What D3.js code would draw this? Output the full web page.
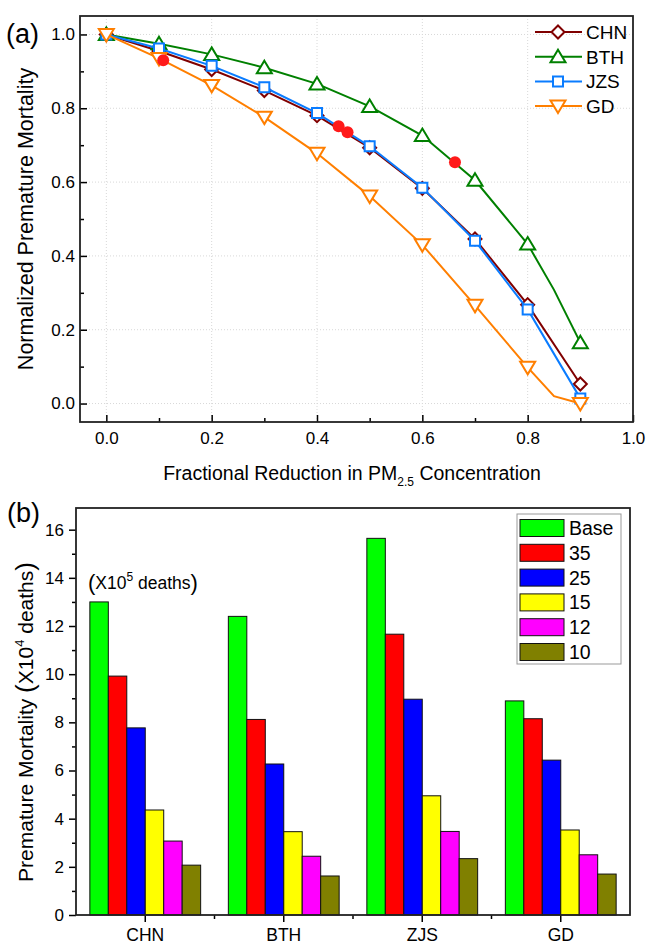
<!DOCTYPE html>
<html>
<head>
<meta charset="utf-8">
<script src="https://cdn.jsdelivr.net/npm/d3@7"></script>
<style>
body { margin:0; background:#fff; }
text { font-family: "Liberation Sans", Arial, sans-serif; fill:#000; }
.grid line { stroke:#d8d8d8; stroke-dasharray:1,2; }
</style>
</head>
<body>
<svg id="fig" width="649" height="944"></svg>
<script>
// ---- panel (a) data ----
var fracX = [0, 0.1, 0.2, 0.3, 0.4, 0.5, 0.6, 0.7, 0.8, 0.9]
var chnN = [1.0, 0.955, 0.905, 0.848, 0.780, 0.693, 0.583, 0.446, 0.268, 0.053]
var bthN = [1.0, 0.975, 0.946, 0.910, 0.866, 0.805, 0.726, 0.605, 0.432, 0.165]
var jzsN = [1.0, 0.962, 0.915, 0.857, 0.787, 0.697, 0.585, 0.441, 0.255, 0.014]
var gdN  = [1.0, 0.935, 0.862, 0.776, 0.678, 0.562, 0.430, 0.266, 0.098, 0.0]
// extra line knots (no marker) read at x=0.85
var bthKnot = [0.85, 0.308]
var gdKnot  = [0.85, 0.020]
// red dots
var dotX = [0.108, 0.441, 0.458, 0.662]
var dotY = [0.930, 0.751, 0.735, 0.654]

// ---- panel (b) data ----
var regions = ["CHN", "BTH", "ZJS", "GD"]
var scenarios = ["Base", "35", "25", "15", "12", "10"]
var mortBase = [13.00, 12.40, 15.64, 8.89]
var mort35   = [9.92, 8.12, 11.66, 8.15]
var mort25   = [7.77, 6.27, 8.96, 6.43]
var mort15   = [4.36, 3.46, 4.95, 3.53]
var mort12   = [3.07, 2.44, 3.47, 2.50]
var mort10   = [2.07, 1.62, 2.34, 1.70]

var svg = d3.select("#fig")

//======================PANEL A========================
var x = d3.scaleLinear().domain([-0.05, 1.0]).range([80, 633])
var y = d3.scaleLinear().domain([-0.05, 1.05]).range([422, 16])

var ga = svg.append("g")

// grid
var gridA = ga.append("g").attr("class","grid")
gridA.selectAll("line.v").data([0,0.2,0.4,0.6,0.8]).enter().append("line")
  .attr("x1",d=>x(d)).attr("x2",d=>x(d)).attr("y1",y(-0.05)).attr("y2",y(1.05))
gridA.selectAll("line.h").data([0,0.2,0.4,0.6,0.8,1.0]).enter().append("line")
  .attr("x1",x(-0.05)).attr("x2",x(1.0)).attr("y1",d=>y(d)).attr("y2",d=>y(d))

// axes (ticks inward)
ga.append("g").attr("transform","translate(0,422)")
  .call(d3.axisBottom(x).tickValues([0,0.2,0.4,0.6,0.8,1.0]).tickFormat(d3.format(".1f")).tickSize(-7).tickPadding(10))
  .call(g=>g.select(".domain").remove())
  .call(g=>g.selectAll("line").attr("stroke","#000").attr("stroke-width",1.5))
  .call(g=>g.selectAll("text").attr("font-size",17).attr("font-family","Liberation Sans, Arial"))
ga.append("g").attr("transform","translate(0,422)")
  .call(d3.axisBottom(x).tickValues([0.1,0.3,0.5,0.7,0.9]).tickFormat("").tickSize(-4))
  .call(g=>g.select(".domain").remove())
  .call(g=>g.selectAll("line").attr("stroke","#000").attr("stroke-width",1.5))

ga.append("g").attr("transform","translate(80,0)")
  .call(d3.axisLeft(y).tickValues([0,0.2,0.4,0.6,0.8,1.0]).tickFormat(d3.format(".1f")).tickSize(-7).tickPadding(5))
  .call(g=>g.select(".domain").remove())
  .call(g=>g.selectAll("line").attr("stroke","#000").attr("stroke-width",1.5))
  .call(g=>g.selectAll("text").attr("font-size",17).attr("font-family","Liberation Sans, Arial"))
ga.append("g").attr("transform","translate(80,0)")
  .call(d3.axisLeft(y).tickValues([0.1,0.3,0.5,0.7,0.9]).tickFormat("").tickSize(-4))
  .call(g=>g.select(".domain").remove())
  .call(g=>g.selectAll("line").attr("stroke","#000").attr("stroke-width",1.5))

ga.append("rect").attr("x",80).attr("y",16).attr("width",553).attr("height",406)
  .attr("fill","none").attr("stroke","#222").attr("stroke-width",1.8)

var seriesA = [
  {name:"CHN", vals:chnN, color:"#800000", sym:"diamond", knot:null},
  {name:"BTH", vals:bthN, color:"#008000", sym:"up", knot:bthKnot},
  {name:"JZS", vals:jzsN, color:"#0a7cff", sym:"square", knot:null},
  {name:"GD",  vals:gdN,  color:"#ff7f00", sym:"down", knot:gdKnot}
]

function symPath(sym){
  if(sym=="diamond") return "M0,-6.5L6.5,0L0,6.5L-6.5,0Z"
  if(sym=="square") return "M-5,-5L5,-5L5,5L-5,5Z"
  if(sym=="up") return "M0,-7L7.5,5.5L-7.5,5.5Z"
  return "M0,7L7.5,-5.5L-7.5,-5.5Z"
}

var line = d3.line().x(d=>x(d[0])).y(d=>y(d[1]))

seriesA.forEach(function(s){
  var pts = fracX.map((v,i)=>[v, s.vals[i]])
  if(s.knot) pts.splice(pts.length-1, 0, s.knot)
  ga.append("path").datum(pts).attr("d",line)
    .attr("fill","none").attr("stroke",s.color).attr("stroke-width",2)
  ga.selectAll(null).data(fracX).enter().append("path")
    .attr("d",symPath(s.sym))
    .attr("transform",(d,i)=>"translate("+x(d)+","+y(s.vals[i])+")")
    .attr("fill","#fff").attr("stroke",s.color).attr("stroke-width",2)
})

ga.selectAll("circle.dot").data(dotX).enter().append("circle")
  .attr("cx",d=>x(d)).attr("cy",(d,i)=>y(dotY[i])).attr("r",6).attr("fill","#ff1a1a")

// legend a
seriesA.forEach(function(s,i){
  var ly = 32 + i*24.7
  ga.append("line").attr("x1",535).attr("x2",582).attr("y1",ly).attr("y2",ly)
    .attr("stroke",s.color).attr("stroke-width",2)
  ga.append("path").attr("d",symPath(s.sym)).attr("transform","translate(558,"+ly+")")
    .attr("fill","#fff").attr("stroke",s.color).attr("stroke-width",2)
  ga.append("text").attr("x",586).attr("y",ly).attr("dy","0.36em").attr("font-size",19).text(s.name)
})

ga.append("text").attr("transform","translate(33,219)rotate(-90)").attr("text-anchor","middle")
  .attr("font-size",21.5).text("Normalized Premature Mortality")
var xt = ga.append("text").attr("x",352).attr("y",480).attr("text-anchor","middle").attr("font-size",19.5)
xt.append("tspan").text("Fractional Reduction in PM")
xt.append("tspan").attr("font-size",12).attr("dy",6).text("2.5")
xt.append("tspan").attr("dy",-6).text(" Concentration")
ga.append("text").attr("x",6).attr("y",43).attr("font-size",27).text("(a)")

//======================PANEL B========================
var xb = d3.scaleBand().domain(regions).range([76, 630]).padding(0)
var yb = d3.scaleLinear().domain([0, 16.9]).range([915, 508])
var xs = d3.scaleBand().domain(scenarios).range([0, xb.bandwidth()*0.8])
var barColors = ["#00ff00","#ff0000","#0000ff","#ffff00","#ff00ff","#808000"]
var mortSets = [mortBase, mort35, mort25, mort15, mort12, mort10]

var gb = svg.append("g")

gb.append("g").attr("transform","translate(76,0)")
  .call(d3.axisLeft(yb).tickValues([0,2,4,6,8,10,12,14,16]).tickSize(7).tickPadding(5))
  .call(g=>g.select(".domain").remove())
  .call(g=>g.selectAll("line").attr("stroke","#000").attr("stroke-width",1.5))
  .call(g=>g.selectAll("text").attr("font-size",17).attr("font-family","Liberation Sans, Arial"))
gb.append("g").attr("transform","translate(76,0)")
  .call(d3.axisLeft(yb).tickValues([1,3,5,7,9,11,13,15]).tickFormat("").tickSize(4))
  .call(g=>g.select(".domain").remove())
  .call(g=>g.selectAll("line").attr("stroke","#000").attr("stroke-width",1.5))

gb.append("g").attr("transform","translate(0,915)")
  .call(d3.axisBottom(xb).tickSize(7).tickPadding(7))
  .call(g=>g.select(".domain").remove())
  .call(g=>g.selectAll("line").attr("stroke","#000").attr("stroke-width",1.5))
  .call(g=>g.selectAll("text").attr("font-size",17.5).attr("font-family","Liberation Sans, Arial"))
gb.append("g").selectAll("line").data(regions.slice(1)).enter().append("line")
  .attr("x1",d=>xb(d)).attr("x2",d=>xb(d)).attr("y1",915).attr("y2",919)
  .attr("stroke","#000").attr("stroke-width",1.5)

regions.forEach(function(r,ri){
  var gx = xb(r) + xb.bandwidth()*0.1
  scenarios.forEach(function(s,si){
    var v = mortSets[si][ri]
    gb.append("rect").attr("x",gx+xs(s)).attr("y",yb(v))
      .attr("width",xs.bandwidth()).attr("height",915-yb(v))
      .attr("fill",barColors[si]).attr("stroke","#111").attr("stroke-width",1)
  })
})

gb.append("rect").attr("x",76).attr("y",508).attr("width",554).attr("height",407)
  .attr("fill","none").attr("stroke","#222").attr("stroke-width",1.8)

// legend b
gb.append("rect").attr("x",517).attr("y",514).attr("width",104).attr("height",150)
  .attr("fill","#fff").attr("stroke","#999").attr("stroke-width",1)
scenarios.forEach(function(s,i){
  var ly = 528 + i*24.8
  gb.append("rect").attr("x",520).attr("y",ly-8.5).attr("width",44).attr("height",17)
    .attr("fill",barColors[i]).attr("stroke","#111").attr("stroke-width",1)
  gb.append("text").attr("x",569).attr("y",ly).attr("dy","0.36em").attr("font-size",19.5).text(s)
})

var note = gb.append("text").attr("x",88).attr("y",589).attr("font-size",17.5)
note.append("tspan").attr("font-size",22).attr("dy",1).text("(")
note.append("tspan").attr("dy",-1).text("X10")
note.append("tspan").attr("font-size",12).attr("dy",-8).text("5")
note.append("tspan").attr("dy",8).text(" deaths")
note.append("tspan").attr("font-size",22).attr("dy",1).text(")")

var yt = gb.append("text").attr("transform","translate(33,722)rotate(-90)").attr("text-anchor","middle").attr("font-size",21)
yt.append("tspan").text("Premature Mortality ")
yt.append("tspan").attr("font-size",26).attr("dy",1).text("(")
yt.append("tspan").attr("dy",-1).text("X10")
yt.append("tspan").attr("font-size",13).attr("dy",-9).text("4")
yt.append("tspan").attr("dy",9).text(" deaths")
yt.append("tspan").attr("font-size",26).attr("dy",1).text(")")

gb.append("text").attr("x",7).attr("y",522).attr("font-size",27).text("(b)")
</script>
</body>
</html>
